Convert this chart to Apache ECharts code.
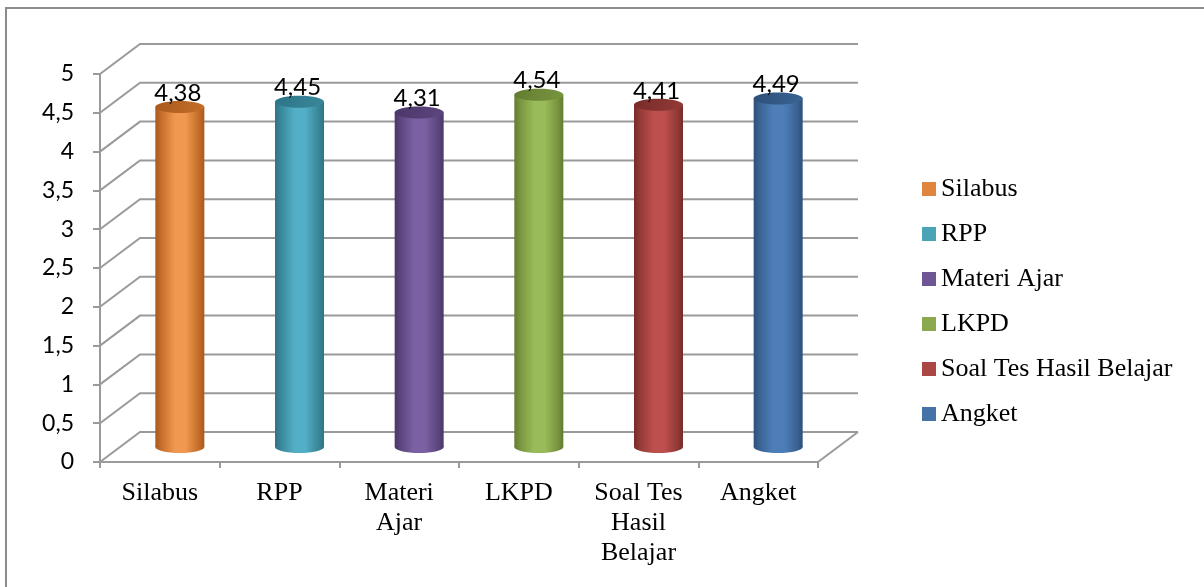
<!DOCTYPE html>
<html>
<head>
<meta charset="utf-8">
<script src="https://cdn.jsdelivr.net/npm/echarts@6/dist/echarts.min.js"></script>
<style>
  html, body { margin: 0; padding: 0; background: #fff; }
  #chart { width: 1204px; height: 587px; }
</style>
</head>
<body>
<div id="chart"></div>
<script>
// Data
const categories = ['Silabus', 'RPP', 'Materi Ajar', 'LKPD', 'Soal Tes Hasil Belajar', 'Angket'];
const xTickLabels = ['Silabus', 'RPP', 'Materi\nAjar', 'LKPD', 'Soal Tes\nHasil\nBelajar', 'Angket'];
const values = [4.38, 4.45, 4.31, 4.54, 4.41, 4.49];
const yTicks = [0, 0.5, 1, 1.5, 2, 2.5, 3, 3.5, 4, 4.5, 5];

// Palette: [legend swatch, shaded edge, highlight, top face]
const palette = [
  ['#E0853D', '#A9591C', '#F0984F', '#C56E2A'],
  ['#4BA3B8', '#2C7587', '#52AFC6', '#3A8799'],
  ['#6E5596', '#4B3768', '#7B61A3', '#5C467F'],
  ['#8BA94F', '#627C30', '#9ABB59', '#7A953F'],
  ['#AA4643', '#782B29', '#BD4F4C', '#933A37'],
  ['#4572A7', '#2E5079', '#4E7EB8', '#3A6394']
];

// 3D box depth offset (pixels) and cylinder radii
const DX = 40, DY = -30;
const RX = 24.5, RY = 6;
const GRID_COLOR = '#9a9a9a';

const fmt = v => String(v).replace('.', ',');

const chart = echarts.init(document.getElementById('chart'), null, { renderer: 'canvas' });

// back wall / side wall grid lines of the 3D frame
const frameSeries = {
  type: 'custom',
  name: 'frame',
  silent: true,
  z: 1,
  encode: { x: 0, y: 1 },
  data: yTicks.map(v => [0, v]),
  renderItem: function (params, api) {
    const cs = params.coordSys;
    const v = api.value(1);
    const y = api.coord([0, v])[1];
    const x0 = cs.x, x1 = cs.x + cs.width;
    const children = [{
      type: 'polyline',
      shape: { points: [[x0, y], [x0 + DX, y + DY], [x1 + DX, y + DY]] },
      style: { stroke: GRID_COLOR, lineWidth: 2, fill: null }
    }];
    if (v === 0) {
      children.push({
        type: 'line',
        shape: { x1: x1, y1: y, x2: x1 + DX, y2: y + DY },
        style: { stroke: GRID_COLOR, lineWidth: 2 }
      });
    }
    return { type: 'group', children: children };
  }
};

function cylinderSeries(idx) {
  const pal = palette[idx];
  return {
    type: 'custom',
    name: categories[idx],
    z: 3,
    itemStyle: { color: pal[0] },
    encode: { x: 0, y: 1 },
    data: [[idx, values[idx]]],
    renderItem: function (params, api) {
      const i = api.value(0), v = api.value(1);
      const base = api.coord([i, 0]);
      const top = api.coord([i, v]);
      const cx = base[0] + DX / 2;
      const by = base[1] + DY / 2;
      const ty = top[1] + DY / 2;
      const bodyFill = new echarts.graphic.LinearGradient(0, 0, 1, 0, [
        { offset: 0, color: pal[1] },
        { offset: 0.12, color: pal[3] },
        { offset: 0.4, color: pal[2] },
        { offset: 0.62, color: pal[2] },
        { offset: 0.88, color: pal[3] },
        { offset: 1, color: pal[1] }
      ]);
      const topFill = new echarts.graphic.LinearGradient(0, 0, 1, 1, [
        { offset: 0, color: pal[1] },
        { offset: 1, color: pal[3] }
      ]);
      return {
        type: 'group',
        children: [
          { type: 'ellipse', shape: { cx: cx, cy: by, rx: RX, ry: RY }, style: { fill: bodyFill } },
          { type: 'rect', shape: { x: cx - RX, y: ty, width: RX * 2, height: by - ty }, style: { fill: bodyFill } },
          { type: 'ellipse', shape: { cx: cx, cy: ty, rx: RX, ry: RY }, style: { fill: topFill } },
          {
            type: 'text',
            style: {
              text: fmt(v),
              x: cx - 2,
              y: ty - RY + 4,
              align: 'center',
              verticalAlign: 'bottom',
              font: '24px Lato',
              fill: '#000'
            }
          }
        ]
      };
    }
  };
}

const option = {
  animation: false,
  backgroundColor: '#fff',
  graphic: [{
    type: 'rect',
    shape: { x: 6, y: 8, width: 1210, height: 600 },
    style: { fill: null, stroke: '#8c8c8c', lineWidth: 2 },
    silent: true,
    z: 0
  }],
  grid: { left: 100, top: 74, width: 718, height: 388, containLabel: false },
  legend: {
    data: categories,
    orient: 'vertical',
    left: 922,
    top: 176,
    padding: 0,
    icon: 'rect',
    itemWidth: 14,
    itemHeight: 14,
    itemGap: 19,
    selectedMode: false,
    textStyle: { fontFamily: 'Liberation Serif', fontSize: 26, lineHeight: 26, color: '#000' }
  },
  xAxis: {
    type: 'category',
    data: xTickLabels,
    boundaryGap: true,
    axisLine: { show: true, lineStyle: { color: GRID_COLOR, width: 2 } },
    axisTick: { show: true, interval: 0, length: 6, lineStyle: { color: GRID_COLOR, width: 2 } },
    axisLabel: {
      interval: 0,
      margin: 16,
      fontFamily: 'Liberation Serif',
      fontSize: 26,
      lineHeight: 30,
      color: '#000'
    },
    splitLine: { show: false }
  },
  yAxis: {
    type: 'value',
    min: 0,
    max: 5,
    interval: 0.5,
    axisLine: { show: true, lineStyle: { color: GRID_COLOR, width: 2 } },
    axisTick: { show: true, length: 7, lineStyle: { color: GRID_COLOR, width: 2 } },
    axisLabel: {
      margin: 26,
      fontFamily: 'Lato',
      fontSize: 23,
      color: '#000',
      formatter: v => fmt(v)
    },
    splitLine: { show: false }
  },
  series: [frameSeries].concat(categories.map((c, i) => cylinderSeries(i)))
};

chart.setOption(option);
</script>
</body>
</html>
